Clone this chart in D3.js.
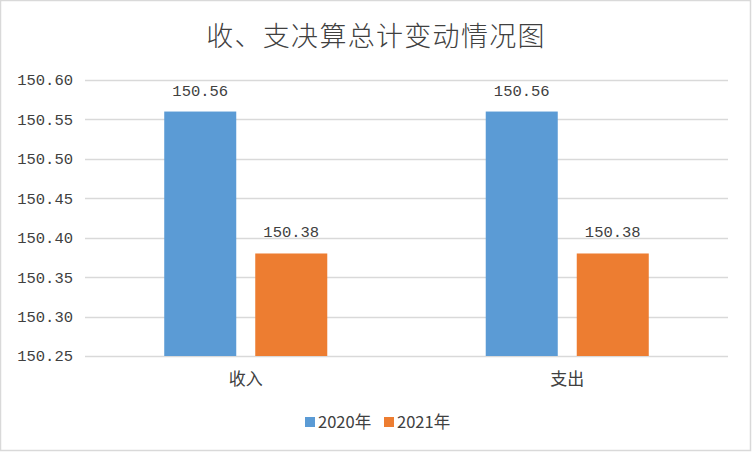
<!DOCTYPE html>
<html><head><meta charset="utf-8">
<script src="https://cdn.jsdelivr.net/npm/d3@7"></script>
<style>
html,body{margin:0;padding:0;background:#fff;}
svg{display:block;}
</style></head>
<body>
<script>
const categories = ["收入", "支出"];
const seriesNames = ["2020年", "2021年"];
const values2020 = [150.56, 150.56];
const values2021 = [150.38, 150.38];
const yTicks = [150.25, 150.30, 150.35, 150.40, 150.45, 150.50, 150.55, 150.60];
const colors = ["#5B9BD5", "#ED7D31"];
const title = "收、支决算总计变动情况图";

const W = 752, H = 452;
const svg = d3.select("body").append("svg").attr("width", W).attr("height", H);
svg.append("rect").attr("x", 0.5).attr("y", 0.5).attr("width", W - 2).attr("height", H - 2)
  .attr("fill", "#fff").attr("stroke", "#d9d9d9").attr("stroke-width", 1.5);

const m = {left: 85, right: 24, top: 80, bottom: 96};
const x0 = d3.scaleBand().domain(categories).range([m.left, W - m.right]).paddingInner(0).paddingOuter(0);
const y = d3.scaleLinear().domain([150.25, 150.60]).range([H - m.bottom, m.top]);

const numFont = "'Liberation Mono', monospace";
const cjkFont = "'Noto Sans CJK SC', sans-serif";
const textColor = "#404040";

// gridlines
svg.append("g").selectAll("line").data(yTicks).join("line")
  .attr("x1", m.left).attr("x2", W - m.right)
  .attr("y1", d => Math.round(y(d)) + 0.5).attr("y2", d => Math.round(y(d)) + 0.5)
  .attr("stroke", "#d9d9d9").attr("stroke-width", 1.5);

// y axis
const yAxis = d3.axisLeft(y).tickValues(yTicks).tickFormat(d3.format(".2f")).tickSize(0).tickPadding(12);
const yg = svg.append("g").attr("transform", `translate(${m.left},0)`).call(yAxis);
yg.select(".domain").remove();
yg.selectAll("text").attr("font-family", numFont).attr("font-size", 15.5).attr("fill", textColor);

// bars
const barW = x0.bandwidth() * 0.224;
const gap = 19;
const series = [values2020, values2021];
const data = [];
categories.forEach((c, i) => {
  series.forEach((s, j) => data.push({c, j, v: s[i]}));
});
const bx = d => x0(d.c) + x0.bandwidth() / 2 + (d.j === 0 ? -gap / 2 - barW : gap / 2);
svg.append("g").selectAll("rect").data(data).join("rect")
  .attr("x", bx).attr("width", barW)
  .attr("y", d => y(d.v)).attr("height", d => y(150.25) - y(d.v))
  .attr("fill", d => colors[d.j]);

// data labels
svg.append("g").selectAll("text").data(data).join("text")
  .attr("x", d => bx(d) + barW / 2).attr("y", d => y(d.v) - 16)
  .attr("text-anchor", "middle").attr("font-family", numFont).attr("font-size", 15.5)
  .attr("fill", textColor).text(d => d3.format(".2f")(d.v));

// x axis
const xAxis = d3.axisBottom(x0).tickSize(0).tickPadding(17);
const xg = svg.append("g").attr("transform", `translate(0,${H - m.bottom})`).call(xAxis);
xg.select(".domain").remove();
xg.selectAll("text").attr("font-family", cjkFont).attr("font-size", 17).attr("fill", textColor);

// title
svg.append("text").attr("x", W / 2).attr("y", 46).attr("text-anchor", "middle")
  .attr("font-family", cjkFont).attr("font-size", 27).attr("font-weight", 300).attr("fill", textColor)
  .attr("letter-spacing", 1.3).text(title);

// legend
const legend = svg.append("g").attr("transform", "translate(305,417)");
const lx = [0, 79];
seriesNames.forEach((n, i) => {
  const g = legend.append("g").attr("transform", `translate(${lx[i]},0)`);
  g.append("rect").attr("width", 10).attr("height", 10).attr("fill", colors[i]);
  g.append("text").attr("x", 13).attr("y", 11).attr("font-family", cjkFont).attr("font-size", 16.5)
    .attr("fill", textColor).text(n);
});
</script>
</body></html>
